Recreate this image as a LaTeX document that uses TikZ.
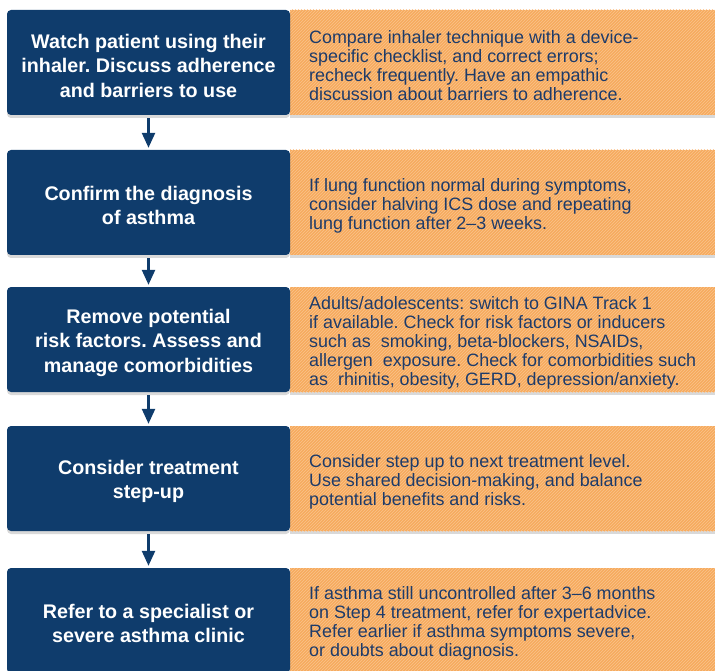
\documentclass[tikz,border=0pt]{standalone}
\usepackage{fontspec}
\setmainfont{Liberation Sans}
\frenchspacing
\usetikzlibrary{arrows.meta,patterns,shadows}

\definecolor{stepblue}{HTML}{0F3C6C}
\definecolor{notebg}{HTML}{F6AA5E}
\definecolor{notestripe}{HTML}{FAC38C}
\definecolor{noteink}{HTML}{1D3B6A}

\tikzset{
    stepbox/.style={rectangle, rounded corners=4pt, fill=stepblue, inner sep=0pt,
        minimum width=283pt, minimum height=105pt,
        drop shadow={shadow xshift=0pt, shadow yshift=-3pt, opacity=0.3}},
    notebox/.style={rectangle, fill=notebg, inner sep=0pt,
        minimum width=430pt, minimum height=105pt,
        postaction={pattern=north east lines, pattern color=notestripe},
        drop shadow={shadow xshift=0pt, shadow yshift=-3pt, opacity=0.3}},
    steptext/.style={text=white, inner sep=0pt, align=center,
        font=\fontsize{19.7}{24.5}\selectfont\bfseries},
    notetext/.style={text=noteink, inner sep=0pt, align=left, anchor=west,
        font=\fontsize{17.9}{19}\selectfont},
    flow/.style={draw=stepblue, line width=2.5pt, -{Triangle[width=13pt,length=15pt]},
        shorten <=3pt, shorten >=2pt}
}

\begin{document}
\begin{tikzpicture}[x=1pt,y=-1pt]
    \useasboundingbox (0,0) rectangle (715,671);

    \node[notebox] (n1) at (505,62.5) {};
    \node[notebox] (n2) at (505,202.5) {};
    \node[notebox] (n3) at (505,339.5) {};
    \node[notebox] (n4) at (505,478.5) {};
    \node[notebox] (n5) at (505,620.5) {};

    \node[stepbox] (s1) at (148.5,62.5) {};
    \node[stepbox] (s2) at (148.5,202.5) {};
    \node[stepbox] (s3) at (148.5,339.5) {};
    \node[stepbox] (s4) at (148.5,478.5) {};
    \node[stepbox] (s5) at (148.5,620.5) {};

    \node[steptext] (st1) at (148.5,65.5) {Watch patient using their\\inhaler. Discuss adherence\\and barriers to use};
    \node[steptext] (st2) at (148.5,205.5) {Confirm the diagnosis\\of asthma};
    \node[steptext] (st3) at (148.5,342.5) {Remove potential\\risk factors. Assess and\\manage comorbidities};
    \node[steptext] (st4) at (148.5,481.5) {Consider treatment\\step-up};
    \node[steptext] (st5) at (148.5,623.5) {Refer to a specialist or\\severe asthma clinic};

    \node[notetext] (nt1) at (309,65.5) {Compare inhaler technique with a device-\\specific checklist, and correct errors;\\recheck frequently. Have an empathic\\discussion about barriers to adherence.};
    \node[notetext] (nt2) at (309,205.5) {If lung function normal during symptoms,\\consider halving ICS dose and repeating\\lung function after 2–3 weeks.};
    \node[notetext] (nt3) at (309,342.5) {Adults/adolescents: switch to GINA Track 1\\if available. Check for risk factors or inducers\\such as\ \ smoking, beta-blockers, NSAIDs,\\allergen\ \ exposure. Check for comorbidities such\\as\ \ rhinitis, obesity, GERD, depression/anxiety.};
    \node[notetext] (nt4) at (309,481.5) {Consider step up to next treatment level.\\Use shared decision-making, and balance\\potential benefits and risks.};
    \node[notetext] (nt5) at (309,623.5) {If asthma still uncontrolled after 3–6 months\\on Step 4 treatment, refer for expert\hspace{1pt}advice.\\Refer earlier if asthma symptoms severe,\\or doubts about diagnosis.};

    \draw[flow] (s1) -- (s2);
    \draw[flow] (s2) -- (s3);
    \draw[flow] (s3) -- (s4);
    \draw[flow] (s4) -- (s5);
  \end{tikzpicture}
\end{document}
